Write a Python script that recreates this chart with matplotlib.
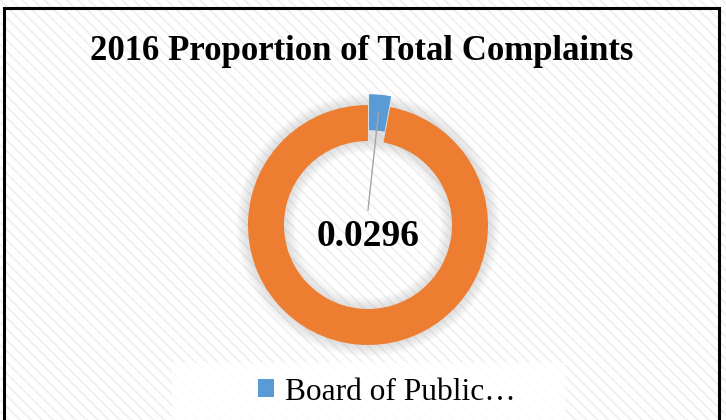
import matplotlib.pyplot as plt
from matplotlib.patches import Rectangle, Wedge
import numpy as np

plt.rcParams['font.family'] = ['Liberation Serif', 'DejaVu Serif']
plt.rcParams['hatch.linewidth'] = 1.3

# Data
labels = ["Board of Public\u2026", "Other"]
values = [0.0296, 0.9704]
colors = ["#5B9BD5", "#ED7D31"]
title = "2016 Proportion of Total Complaints"

W, H = 726, 420
fig = plt.figure(figsize=(W / 100, H / 100), dpi=100)

# striped background
bg = Rectangle((0, 0), 1, 1, transform=fig.transFigure, facecolor="white",
               edgecolor="#F0F0F0", hatch="\\\\\\", linewidth=0, zorder=-10)
fig.patches.append(bg)

# outer border
border = Rectangle((4 / W, -0.05), 715 / W, 1.05 - 8 / H, transform=fig.transFigure,
                   fill=False, edgecolor="black", linewidth=2.2, zorder=5)
fig.patches.append(border)

# donut axes: radius 1 -> 120 px, centre at (368, 225) px from top-left
cx, cy, half = 368, 225, 150
ax = fig.add_axes([(cx - half) / W, (H - cy - half) / H, 2 * half / W, 2 * half / H])
ax.set_xlim(-half / 120, half / 120)
ax.set_ylim(-half / 120, half / 120)
ax.axis("off")

# soft glow around the ring
for i in range(8):
    ax.add_patch(Wedge((0, 0), 1.0 + 0.012 * (i + 1), 0, 360, width=0.3 + 0.024 * (i + 1),
                       facecolor="#9A9A9A", alpha=0.04, linewidth=0, zorder=0))

width = 0.3
explode = [0.09, 0]
wedges, _ = ax.pie(values, colors=colors, startangle=90, counterclock=False,
                   explode=explode, wedgeprops=dict(width=width, linewidth=0))
for w in wedges:
    w.set_zorder(2)

# data label with leader line
ang = np.deg2rad(90 - values[0] * 360 / 2)
r_mid = 1 - width / 2 + explode[0]
px, py = r_mid * np.cos(ang), r_mid * np.sin(ang)
ax.plot([px, 0.0], [py, 0.125], color="#A6A6A6", lw=1.0, zorder=3)
ax.text(0, -0.1, f"{values[0]:.4f}", ha="center", va="center",
        fontsize=27, fontweight="bold", zorder=4)

# title
fig.text(362 / W, 1 - 52 / H, title, ha="center", va="center",
         fontsize=25, fontweight="bold")

# legend panel
panel = Rectangle((172 / W, 0), (565 - 172) / W, (H - 363) / H, transform=fig.transFigure,
                  facecolor="white", edgecolor="none", alpha=0.85, zorder=1)
fig.patches.append(panel)
fig.legend(wedges[:1], labels[:1], loc="center", bbox_to_anchor=(387 / W, 1 - 392 / H),
           frameon=False, fontsize=22.6, handlelength=0.5, handleheight=0.5,
           handletextpad=0.35, borderpad=0)

fig.savefig("out.png", dpi=100)
